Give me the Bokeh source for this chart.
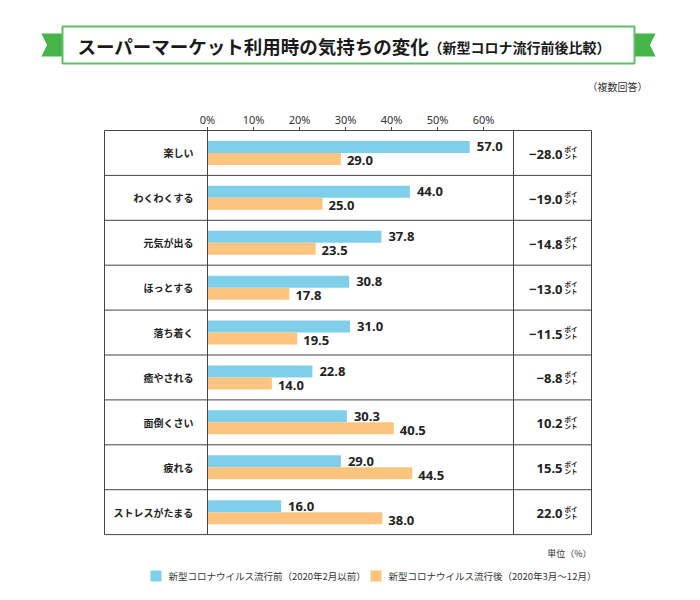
from bokeh.plotting import figure
from bokeh.models import Range1d
from bokeh.core.properties import value
from bokeh.embed import file_html
from bokeh.resources import INLINE

# ---------------- data ----------------
categories = ["楽しい", "わくわくする", "元気が出る", "ほっとする", "落ち着く",
              "癒やされる", "面倒くさい", "疲れる", "ストレスがたまる"]
before = [57.0, 44.0, 37.8, 30.8, 31.0, 22.8, 30.3, 29.0, 16.0]
after = [29.0, 25.0, 23.5, 17.8, 19.5, 14.0, 40.5, 44.5, 38.0]
diff_values = ["−28.0", "−19.0", "−14.8", "−13.0", "−11.5", "−8.8", "10.2", "15.5", "22.0"]
tick_values = [0, 10, 20, 30, 40, 50, 60]
tick_labels = ["0%", "10%", "20%", "30%", "40%", "50%", "60%"]
series_names = ["新型コロナウイルス流行前（2020年2月以前）", "新型コロナウイルス流行後（2020年3月～12月）"]
title_main = "スーパーマーケット利用時の気持ちの変化"
title_sub = "（新型コロナ流行前後比較）"
note_multi = "（複数回答）"
note_unit = "単位（%）"
point_top = "ポイ"
point_bottom = "ント"

# ---------------- style ----------------
BLUE = "#80cfea"
ORANGE = "#fcc47f"
GREEN = "#45b549"
GREEN_BORDER = "#62bd66"
LINE = "#444444"
TXT = "#222222"
JP = value("Noto Sans CJK JP")
LAT = value("Noto Sans")

W, H = 684, 584
OFF = 0
PX_PER_PCT = 4.6
ZERO_PX = 207
ROW_PX = 44.9
TOP_PX = 130


def X(px):
    return (px - ZERO_PX) / PX_PER_PCT


def Y(py):
    return (py - TOP_PX) / ROW_PX


p = figure(width=W, height=H, output_backend="svg", toolbar_location=None,
           x_range=Range1d(X(OFF), X(OFF + W)),
           y_range=Range1d(start=Y(OFF + H), end=Y(OFF)),
           x_axis_type=None, y_axis_type=None,
           min_border=0, min_border_left=0, min_border_right=0,
           min_border_top=0, min_border_bottom=0)
p.outline_line_color = None
p.grid.visible = False
p.background_fill_color = "white"
p.border_fill_color = "white"

n = len(categories)
rows = list(range(n))
centers = [i + 0.5 for i in rows]
bh = 12 / ROW_PX
blue_y = [c - bh / 2 for c in centers]
orange_y = [c + bh / 2 for c in centers]

# ---------------- title banner ----------------
p.patches(xs=[[X(41), X(63), X(63), X(41), X(46.5)],
              [X(633), X(655), X(649.5), X(655), X(633)]],
          ys=[[Y(33), Y(33), Y(56), Y(56), Y(44.5)],
              [Y(33), Y(33), Y(44.5), Y(56), Y(56)]],
          fill_color=GREEN, line_color=None)
p.quad(left=[X(62)], right=[X(634)], top=[Y(26)], bottom=[Y(63)],
       fill_color="white", line_color=GREEN_BORDER, line_width=2)
p.text(x=[X(77)], y=[Y(45)], text=[title_main], text_font=JP, text_font_size="18.5px",
       text_font_style="bold", text_baseline="middle", text_align="left", text_color="#1a1a1a")
p.text(x=[X(428)], y=[Y(46)], text=[title_sub], text_font=JP, text_font_size="14px",
       text_font_style="bold", text_baseline="middle", text_align="left", text_color="#1a1a1a")
p.text(x=[X(647)], y=[Y(86)], text=[note_multi], text_font=JP, text_font_size="10px",
       text_baseline="middle", text_align="right", text_color="#333333")

# ---------------- axis ticks ----------------
p.segment(x0=tick_values, x1=tick_values, y0=[Y(126.5)] * len(tick_values),
          y1=[0] * len(tick_values), line_color=LINE, line_width=1)
p.text(x=tick_values, y=[Y(119)] * len(tick_values), text=tick_labels, text_font=LAT,
       text_font_size="11px", text_baseline="middle", text_align="center", text_color="#333333")

# ---------------- bars ----------------
p.hbar(y=blue_y, left=0, right=before, height=bh, fill_color=BLUE, line_color=None)
p.hbar(y=orange_y, left=0, right=after, height=bh, fill_color=ORANGE, line_color=None)

p.text(x=before, y=blue_y, text=[f"{v:.1f}" for v in before], x_offset=7, y_offset=0,
       text_font=LAT, text_font_size="13px", text_font_style="bold",
       text_baseline="middle", text_align="left", text_color=TXT)
p.text(x=after, y=orange_y, text=[f"{v:.1f}" for v in after], x_offset=6, y_offset=2,
       text_font=LAT, text_font_size="13px", text_font_style="bold",
       text_baseline="middle", text_align="left", text_color=TXT)

# ---------------- table grid ----------------
p.quad(left=[X(104)], right=[X(591)], top=[0], bottom=[n], fill_color=None,
       line_color=LINE, line_width=1)
p.segment(x0=[X(104)] * (n - 1), x1=[X(591)] * (n - 1), y0=rows[1:], y1=rows[1:],
          line_color=LINE, line_width=1)
p.segment(x0=[0, X(513)], x1=[0, X(513)], y0=[0, 0], y1=[n, n], line_color=LINE, line_width=1)

# ---------------- row labels ----------------
p.text(x=[X(193)] * n, y=centers, text=categories, text_font=JP, text_font_size="10px",
       text_font_style="bold", text_baseline="middle", text_align="right", text_color=TXT)

# ---------------- difference column ----------------
p.text(x=[X(562)] * n, y=[c + 1.5 / ROW_PX for c in centers], text=diff_values,
       text_font=LAT, text_font_size="13px", text_font_style="bold",
       text_baseline="middle", text_align="right", text_color=TXT)
p.text(x=[X(564)] * n, y=[c - 3.5 / ROW_PX for c in centers], text=[point_top] * n,
       text_font=JP, text_font_size="6.5px", text_font_style="bold",
       text_baseline="middle", text_align="left", text_color=TXT)
p.text(x=[X(564)] * n, y=[c + 3.5 / ROW_PX for c in centers], text=[point_bottom] * n,
       text_font=JP, text_font_size="6.5px", text_font_style="bold",
       text_baseline="middle", text_align="left", text_color=TXT)

# ---------------- unit + legend ----------------
p.text(x=[X(591)], y=[Y(553)], text=[note_unit], text_font=JP, text_font_size="9px",
       text_baseline="middle", text_align="right", text_color="#333333")
p.quad(left=[X(150), X(370)], right=[X(161), X(381)], top=[Y(570), Y(570)],
       bottom=[Y(581), Y(581)], fill_color=[BLUE, ORANGE], line_color=None)
p.text(x=[X(168), X(388)], y=[Y(575.5), Y(575.5)], text=series_names, text_font=JP,
       text_font_size="9.5px", text_baseline="middle", text_align="left", text_color="#333333")

html = file_html(p, INLINE)
open("out.html", "w").write(html)
